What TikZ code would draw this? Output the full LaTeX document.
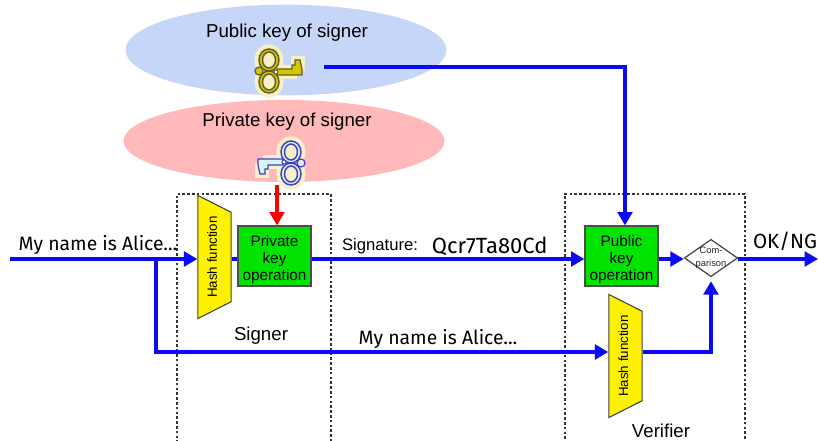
\documentclass[tikz,border=0pt]{standalone}
\usepackage{xcolor}
\usepackage{fontspec}
\setmainfont{Liberation Sans}
\newfontfamily\handfont{Fira Sans}
\usetikzlibrary{arrows.meta}
\usetikzlibrary{positioning, shapes.geometric}
\definecolor{pubblue}{HTML}{C6D6F9}
\definecolor{privred}{HTML}{FFB9BB}
\definecolor{opgreen}{HTML}{00E400}
\definecolor{linkblue}{HTML}{0A0AF5}
\definecolor{keyhalo}{HTML}{F6EFC8}
\newcommand{\oplift}{\rule{0pt}{14pt}}
\newcommand{\hashtext}{\raisebox{3.5pt}{Hash function}}
\tikzset{
key cloud/.style = { ellipse, draw = none, minimum width = 240.75pt },
op box/.style = { rectangle, draw = black!70, line width = 0.9pt, fill = opgreen, minimum width = 54.75pt, minimum height = 45pt, inner sep = 0pt, align = center, font = \fontsize{11.5}{12.8}\selectfont },
hash box/.style = { trapezium, rotate = 90, shape border rotate = 180, trapezium stretches = true, trapezium angle = 43, draw = black!75, line width = 0.8pt, fill = yellow, minimum width = 93pt, minimum height = 25pt, inner sep = 0pt, font = \fontsize{10}{12}\selectfont },
compare box/.style = { diamond, draw = black!75, line width = 0.9pt, fill = white, minimum width = 40pt, minimum height = 28pt, inner sep = 0pt },
party box/.style = { rectangle, draw = black!80, line width = 0.8pt, dash pattern = on 2pt off 1.6pt },
plain label/.style = { font = \fontsize{14}{16}\selectfont },
hand label/.style = { font = \handfont\fontsize{14.5}{17}\selectfont, inner sep = 0pt },
flow/.style = { draw = linkblue, line width = 2.4pt, -{Triangle[length = 10pt, width = 11pt]} },
flow plain/.style = { draw = linkblue, line width = 2.4pt },
secret flow/.style = { draw = red, line width = 2.6pt, -{Triangle[length = 10pt, width = 11pt]} },
}
\tikzset{
pics/key/.style args={#1, #2}{
        code = {
        % halo first, then the metal on top
        \path[draw = keyhalo, line width = 4pt, fill = keyhalo] (0, -11) ellipse [x radius = 12, y radius = 13] (0, 11) ellipse [x radius = 12, y radius = 13];
        \path[draw = keyhalo, line width = 4pt, fill = keyhalo] (8, -3) -- (33, -3) -- (33, -12) -- (25, -12) -- (25, 5) -- (8, 5) -- cycle;
        \path[draw = #2, line width = 0.9pt, fill = #1] (8, -2) -- (23, -2) -- (23, -6) -- (26, -6) -- (26, -11) -- (31, -11) -- (33, -2) -- (33, 4) -- (8, 4) -- cycle;
        \path[draw = #2, line width = 1.1pt, fill = #1, even odd rule] (0, -11) ellipse [x radius = 10, y radius = 11] (0, -11) ellipse [x radius = 6.5, y radius = 8] (0, 11) ellipse [x radius = 10, y radius = 11] (0, 11) ellipse [x radius = 6.5, y radius = 8];
        \path[draw = #2, line width = 0.9pt, fill = #1] (-10, 0) circle [radius = 4];
        \path[draw = #2, line width = 0.7pt, fill = white] (7, 1) circle [radius = 2];
        }
    }
}
\begin{document}
\begin{tikzpicture}[x = 0.75pt, y = -0.75pt]
    \useasboundingbox (0, 0) rectangle (818, 441);
    \node[key cloud, fill = pubblue, minimum height = 68pt] (pubcloud) at (286, 50) {};
    \node[key cloud, fill = privred, minimum height = 61.5pt] (privcloud) at (284, 141) {};
    \node[plain label] (pubtext) at (287, 33) {Public key of signer};
    \node[plain label] (privtext) at (287, 122) {Private key of signer};
    \draw (269, 71) pic{key = {yellow!60!olive, olive!60!black}};
    \draw (291, 163) pic[rotate = 180]{key = {cyan!15!white, blue!50!gray}};
    \node[party box, minimum width = 115.5pt, minimum height = 189pt] (signer) at (254, 320) {};
    \node[party box, minimum width = 135pt, minimum height = 189pt] (verifier) at (655, 320) {};
    \node[hash box] (hashsign) at (214.5, 257) {\hashtext};
    \node[op box] (privop) at (274.5, 256) {\oplift Private\\key\\operation};
    \node[op box] (pubop) at (621.5, 256) {\oplift Public\\key\\operation};
    \node[compare box] (compare) at (711, 258) {};
    \node[font = \fontsize{7}{9.5}\selectfont, align = center, text = black!85, inner sep = 0pt] (comparetext) at (711, 258) {Com-\\parison};
    \node[hash box] (hashver) at (625.5, 356) {\hashtext};
    \node[plain label] (signerlabel) at (261, 336) {Signer};
    \node[plain label] (verifierlabel) at (661, 431) {Verifier};
    \node[font = \fontsize{12.5}{15}\selectfont, inner sep = 0pt] (sigtext) at (380, 246) {Signature:};
    \node[hand label, font = \handfont\fontsize{16.5}{19}\selectfont, right = 10pt of sigtext] (sigvalue) {Qcr7Ta80Cd};
    \node[hand label] (msgin) at (98, 245) {My name is Alice...};
    \node[hand label] (msgcopy) at (438, 339) {My name is Alice...};
    \node[hand label, font = \handfont\fontsize{15.4}{18}\selectfont] (resulttext) at (785, 241) {OK/NG};
    \coordinate (start) at (10, 259);
    \coordinate (branch) at (156, 259);
    \coordinate (corner) at (156, 352);
    \coordinate (pubkeyend) at (324, 67);
    \coordinate (pubkeybend) at (625, 67);
    \coordinate (privkeyend) at (277, 185);
    \coordinate (finish) at (818, 259);
    \draw[flow] (start) -- (hashsign.north |- start);
    \draw[flow plain] (hashsign.south |- start) -- (privop.west |- start);
    \draw[flow] (privop.east |- start) -- (pubop.west |- start);
    \draw[flow] (pubop.east |- start) -- (compare.west |- start);
    \draw[flow] (compare.east |- start) -- (finish);
    \draw[flow] (branch) -- (corner) -- (hashver.north |- corner);
    \draw[flow, shorten > = 3pt] (hashver.south |- corner) -| (compare.south);
    \draw[flow] (pubkeyend) -- (pubkeybend) -- (pubkeybend |- pubop.north);
    \draw[secret flow] (privkeyend) -- (privkeyend |- privop.north);
\end{tikzpicture}
\end{document}
